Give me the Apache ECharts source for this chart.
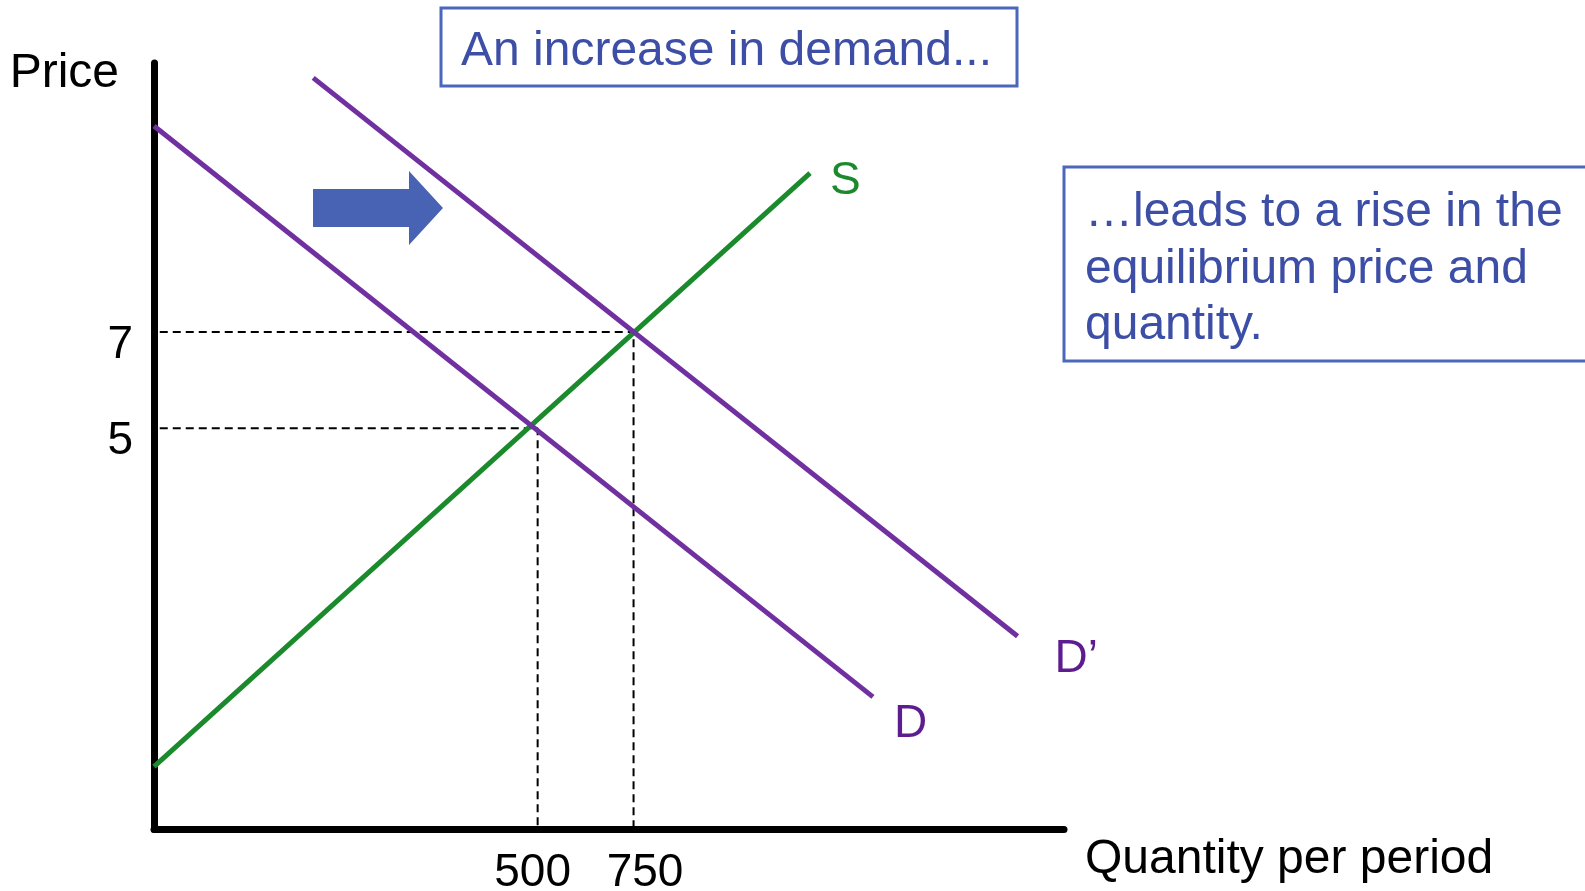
<!DOCTYPE html>
<html>
<head>
<meta charset="utf-8">
<title>An increase in demand</title>
<script src="https://cdn.jsdelivr.net/npm/echarts@6/dist/echarts.min.js"></script>
<style>
  html, body { margin: 0; padding: 0; background: #fff; }
  #main { width: 1585px; height: 891px; }
</style>
</head>
<body>
<div id="main"></div>
<script>
// quantity (Q) / price (P) pairs
var supplyS = [[-500, -2.04], [1210, 10.31]];
var demandD = [[-500, 11.29], [1374, -0.59]];
var demandD2 = [[-85, 12.29], [1751, 0.67]];
var eqQuantity = [500, 750];
var eqPrice = [5, 7];
var quantityTicks = [500, 750];
var priceTicks = [5, 7];
var curveNames = ['S', 'D', 'D’'];

var qMin = -500, qMax = 1872;
var pMin = -3.35, pMax = 12.6;
var guideStart = -485;

var font = '"Liberation Sans", Arial, sans-serif';
var purple = '#7030A0';
var purpleText = '#5E1C91';
var green = '#1B8A2C';
var blueText = '#3C4EA6';
var blueBorder = '#4A66BD';

var myChart = echarts.init(document.getElementById('main'));

// line with a text label at its last point
function curve(name, pts, color, labelColor, dist, dy) {
  var data = pts.map(function(p, i) {
    if (i < pts.length - 1) return p;
    return {
      value: p,
      label: {
        show: true, formatter: name, position: 'right', distance: dist, offset: [0, dy],
        color: labelColor, fontSize: 46, fontFamily: font
      }
    };
  });
  return {
    type: 'line', name: name, data: data,
    symbol: 'circle', symbolSize: 0, showSymbol: true, clip: false,
    lineStyle: { color: color, width: 5 },
    itemStyle: { color: color },
    emphasis: { disabled: true },
    z: 4
  };
}

var series = [];
// dashed guides to the two equilibria
for (var i = 0; i < eqQuantity.length; i++) {
  series.push({
    type: 'line',
    data: [[guideStart, eqPrice[i]], [eqQuantity[i], eqPrice[i]], [eqQuantity[i], pMin]],
    symbol: 'none', clip: false,
    lineStyle: { color: '#000', width: 2, type: [8, 5] },
    emphasis: { disabled: true },
    z: 3
  });
}
series.push(curve(curveNames[0], supplyS, green, green, 20, 8));
series.push(curve(curveNames[1], demandD, purple, purpleText, 21, 27));
series.push(curve(curveNames[2], demandD2, purple, purpleText, 37, 23));

var option = {
  animation: false,
  grid: { left: 154, top: 63, right: 521, bottom: 61.5, outerBoundsMode: 'none' },
  xAxis: {
    type: 'value', min: qMin, max: qMax,
    axisLine: { onZero: false, lineStyle: { color: '#000', width: 7 } },
    axisTick: { show: false },
    splitLine: { show: false },
    axisLabel: {
      customValues: quantityTicks,
      margin: 21,
      color: '#000', fontSize: 46, fontFamily: font,
      formatter: function(v) { return v === quantityTicks[0] ? '{a|' + v + '}' : '{b|' + v + '}'; },
      rich: {
        a: { color: '#000', fontSize: 46, fontFamily: font, padding: [0, 10, 0, 0] },
        b: { color: '#000', fontSize: 46, fontFamily: font, padding: [0, 0, 0, 23] }
      }
    },
    name: 'Quantity per period',
    nameLocation: 'end',
    nameGap: 21,
    nameTextStyle: { color: '#000', fontSize: 48, fontFamily: font, align: 'left', verticalAlign: 'top', lineHeight: 60 }
  },
  yAxis: {
    type: 'value', min: pMin, max: pMax,
    axisLine: { onZero: false, lineStyle: { color: '#000', width: 7 } },
    axisTick: { show: false },
    splitLine: { show: false },
    axisLabel: {
      customValues: priceTicks,
      margin: 21,
      color: '#000', fontSize: 46, fontFamily: font,
      verticalAlign: 'top', lineHeight: 26
    },
    name: 'Price',
    nameLocation: 'end',
    nameGap: -11,
    nameTextStyle: { color: '#000', fontSize: 48, fontFamily: font, align: 'right', verticalAlign: 'middle', padding: [0, 35, 0, 0] }
  },
  graphic: [
    { type: 'rect', shape: { x: 441, y: 8, width: 576, height: 78 }, style: { fill: '#fff', stroke: blueBorder, lineWidth: 3 } },
    { type: 'text', x: 461, y: 52, style: { text: 'An increase in demand...', fontSize: 48, fontFamily: font, fill: blueText, verticalAlign: 'middle' } },
    { type: 'rect', shape: { x: 1064, y: 167, width: 560, height: 194 }, style: { fill: '#fff', stroke: blueBorder, lineWidth: 3 } },
    { type: 'text', x: 1085, y: 185, style: { text: '…leads to a rise in the\nequilibrium price and\nquantity.', fontSize: 48, lineHeight: 56.5, fontFamily: font, fill: blueText, verticalAlign: 'top' } },
    // shift arrow
    { type: 'polygon', shape: { points: [[313, 189], [409, 189], [409, 171], [443, 208], [409, 245], [409, 227], [313, 227]] }, style: { fill: '#4863B3' } }
  ],
  series: series
};

myChart.setOption(option);
window.addEventListener('resize', function() {
  myChart.resize();
});
</script>
</body>
</html>
